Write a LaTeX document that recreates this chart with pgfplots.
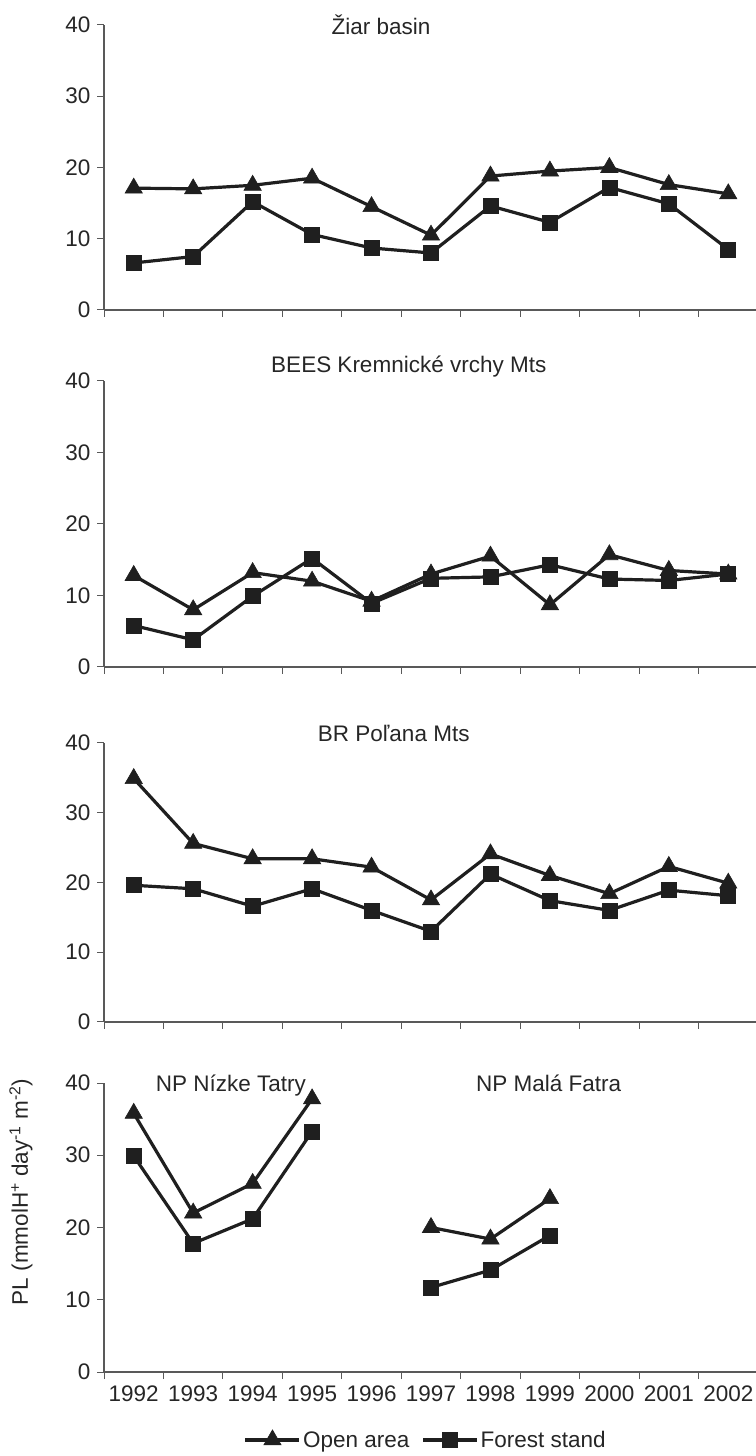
\documentclass[border=0pt]{standalone}
\usepackage{fontspec}
\setmainfont{Liberation Sans}
\usepackage{pgfplots}
\pgfplotsset{compat=1.18}

\pgfplotsset{
  panel/.style={
    scale only axis, width=654pt,
    xmin=0.5, xmax=11.5, ymin=0, ymax=40,
    ytick={0,10,20,30,40},
    xtick={0.5,1.5,2.5,3.5,4.5,5.5,6.5,7.5,8.5,9.5,10.5,11.5},
    xticklabels={},
    axis x line*=bottom, axis y line*=left,
    tick align=outside, major tick length=7pt,
    tick style={black!65, line width=1pt},
    axis line style={black!65, line width=1.2pt},
    every tick label/.append style={text=black!85},
    yticklabel style={xshift=-3pt},
    font=\fontsize{22.5}{25}\selectfont,
    /pgf/number format/assume math mode=true,
    clip=false,
  },
  open/.style={black!88, line width=3.2pt, mark=triangle*, mark size=10pt,
    mark options={solid, line width=0.6pt}},
  forest/.style={black!88, line width=3.2pt, mark=square*, mark size=7.5pt,
    mark options={solid, line width=0.6pt}},
}

\begin{document}
\begin{tikzpicture}[x=1pt,y=1pt]
\useasboundingbox (0,0) rectangle (755,1456);

% Panel 1: Ziar basin
\begin{axis}[panel, height=285pt, at={(104pt,1146pt)}, anchor=south west]
\addplot[open] coordinates {(1,17.1)(2,17.0)(3,17.5)(4,18.5)(5,14.5)(6,10.5)(7,18.8)(8,19.5)(9,20.0)(10,17.6)(11,16.3)};
\addplot[forest] coordinates {(1,6.6)(2,7.5)(3,15.2)(4,10.6)(5,8.7)(6,8.0)(7,14.6)(8,12.3)(9,17.2)(10,14.9)(11,8.5)};
\node[anchor=base, text=black!85] at (axis description cs:0.4235,0.965) {Žiar basin};
\end{axis}

% Panel 2: BEES Kremnicke vrchy Mts
\begin{axis}[panel, height=286pt, at={(104pt,789pt)}, anchor=south west]
\addplot[open] coordinates {(1,12.8)(2,8.0)(3,13.2)(4,12.0)(5,9.2)(6,13.0)(7,15.5)(8,8.7)(9,15.7)(10,13.5)(11,13.0)};
\addplot[forest] coordinates {(1,5.8)(2,3.8)(3,9.9)(4,15.2)(5,8.9)(6,12.4)(7,12.6)(8,14.3)(9,12.3)(10,12.1)(11,13.0)};
\node[anchor=base, text=black!85] at (axis description cs:0.466,1.031) {BEES Kremnické vrchy Mts};
\end{axis}

% Panel 3: BR Polana Mts
\begin{axis}[panel, height=279pt, at={(104pt,434pt)}, anchor=south west]
\addplot[open] coordinates {(1,34.9)(2,25.6)(3,23.4)(4,23.4)(5,22.2)(6,17.5)(7,24.1)(8,21.0)(9,18.4)(10,22.3)(11,19.9)};
\addplot[forest] coordinates {(1,19.6)(2,19.1)(3,16.6)(4,19.1)(5,16.0)(6,13.0)(7,21.2)(8,17.4)(9,16.0)(10,18.9)(11,18.1)};
\node[anchor=base, text=black!85] at (axis description cs:0.443,1.007) {BR Poľana Mts};
\end{axis}

% Panel 4: NP Nizke Tatry and NP Mala Fatra
\begin{axis}[panel, height=289pt, at={(104pt,84pt)}, anchor=south west,
  extra x ticks={1,2,3,4,5,6,7,8,9,10,11},
  extra x tick labels={1992,1993,1994,1995,1996,1997,1998,1999,2000,2001,2002},
  extra x tick style={major tick length=0pt, xticklabel style={yshift=-10pt}},
  ylabel={PL (mmolH\textsuperscript{+} day\textsuperscript{-1} m\textsuperscript{-2})},
  every axis y label/.style={at={(axis description cs:-0.127,0.623)}, rotate=90, anchor=center, text=black!85},
  legend style={at={(axis description cs:0.492,-0.235)}, anchor=center, draw=none,
    legend columns=2, font=\fontsize{22.5}{25}\selectfont, text=black!85,
    /tikz/every even column/.append style={column sep=10pt},
    legend cell align=left},
  legend image code/.code={\draw[mark repeat=2,mark phase=2,#1] plot coordinates {(0pt,0pt)(27pt,0pt)(54pt,0pt)};},
]
\addplot[open] coordinates {(1,35.8)(2,22.0)(3,26.1)(4,37.8)};
\addlegendentry{Open area}
\addplot[forest] coordinates {(1,29.9)(2,17.8)(3,21.2)(4,33.3)};
\addlegendentry{Forest stand}
\addplot[open, forget plot] coordinates {(6,20.0)(7,18.4)(8,24.0)};
\addplot[forest, forget plot] coordinates {(6,11.7)(7,14.1)(8,18.9)};
\node[anchor=base, text=black!85] at (axis description cs:0.194,0.972) {NP Nízke Tatry};
\node[anchor=base, text=black!85] at (axis description cs:0.680,0.972) {NP Malá Fatra};
\end{axis}
\end{tikzpicture}
\end{document}
